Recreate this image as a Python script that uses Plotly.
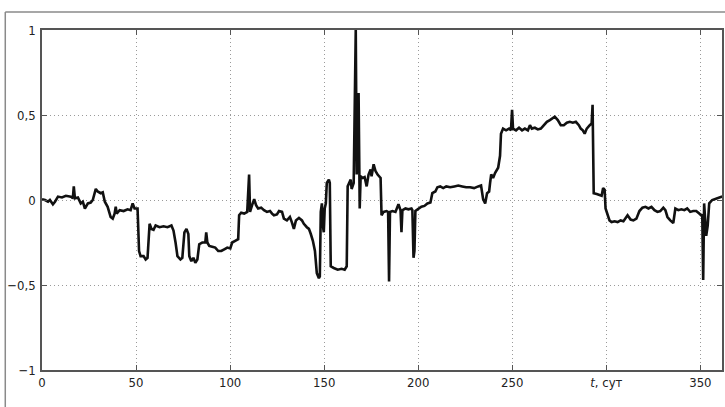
import plotly.graph_objects as go

# time, days
t_days = [0, 1.6, 3.2, 4.2, 5.8, 6.9, 8.5, 10.6, 12.7, 15.3, 16.4, 16.9, 17.5, 19.1, 20.6, 21.7, 22.8, 24.4, 25.9, 27.0,
          28.6, 29.6, 31.2, 32.3, 33.4, 34.9, 36.5, 37.6, 38.6, 39.2, 39.7, 41.3, 43.4, 45.5, 47.1, 48.2, 49.2, 50.8, 51.6, 52.4,
          54.0, 55.1, 56.1, 57.2, 58.2, 59.3, 60.4, 62.5, 64.6, 66.7, 68.8, 69.9, 71.0, 72.0, 73.6, 74.6, 75.7, 76.8, 77.8, 78.3,
          79.4, 80.5, 81.5, 82.6, 83.6, 85.2, 86.8, 87.3, 87.9, 88.9, 90.5, 92.1, 93.7, 95.3, 96.9, 98.5, 100.1, 101.1, 102.7, 104.3,
          104.8, 105.9, 107.5, 109.1, 110.1, 110.6, 111.7, 112.8, 113.8, 114.9, 116.5, 118.0, 119.6, 121.2, 122.3, 123.3, 124.9, 126.0, 127.6, 128.6,
          130.2, 131.8, 132.8, 133.9, 135.0, 136.6, 138.2, 139.2, 140.8, 141.9, 142.9, 144.0, 145.1, 146.1, 147.2, 147.7, 148.2, 148.8, 149.3, 149.8,
          150.3, 150.9, 151.4, 152.5, 153.0, 153.5, 155.1, 157.2, 159.3, 160.9, 162.0, 162.5, 164.1, 164.6, 165.7, 166.8, 167.3, 167.8, 168.3, 168.9,
          169.4, 170.5, 171.5, 172.6, 173.6, 174.7, 175.2, 176.3, 177.3, 178.4, 179.5, 180.0, 180.5, 181.6, 183.2, 184.0, 184.5, 185.0, 186.3, 187.9,
          189.5, 190.6, 191.1, 191.6, 193.2, 194.8, 196.4, 196.9, 197.5, 198.0, 198.5, 200.1, 201.7, 203.3, 204.9, 206.5, 207.5, 209.1, 210.2, 211.7,
          213.3, 214.9, 217.0, 219.2, 221.3, 223.4, 225.5, 227.6, 229.7, 231.9, 233.4, 234.5, 235.6, 236.6, 237.7, 238.2, 238.8, 239.8, 240.9, 242.5,
          243.5, 244.0, 245.1, 246.7, 248.3, 249.3, 249.9, 250.4, 252.0, 253.6, 255.2, 256.7, 258.3, 259.4, 260.4, 262.0, 263.6, 265.2, 266.8, 268.4,
          270.0, 271.6, 272.6, 274.2, 275.8, 277.4, 279.0, 280.6, 282.2, 283.8, 285.4, 286.4, 287.5, 288.5, 289.6, 291.2, 292.2, 292.7, 293.3, 294.9,
          296.5, 297.5, 298.3, 299.1, 299.6, 300.7, 301.7, 302.8, 304.4, 306.0, 307.6, 309.1, 311.3, 312.9, 314.4, 316.0, 317.6, 319.2, 320.8, 322.4,
          324.0, 325.6, 327.2, 328.7, 330.3, 331.4, 332.5, 334.0, 335.6, 336.7, 338.3, 339.9, 341.5, 343.0, 344.6, 346.2, 347.8, 349.4, 350.4, 351.0,
          351.5, 352.0, 352.6, 353.1, 353.9, 354.7, 356.3, 357.9, 359.5, 361.6]

values = [0.005, 0.0, -0.01, 0.0, -0.025, -0.01, 0.02, 0.015, 0.025, 0.02, 0.01, 0.08, 0.01, 0.015, -0.02, -0.01, -0.05, -0.02, -0.015, 0.0,
          0.065, 0.05, 0.04, 0.045, -0.01, -0.04, -0.1, -0.11, -0.08, -0.04, -0.08, -0.06, -0.065, -0.055, -0.06, -0.02, -0.05, -0.05, -0.3, -0.33,
          -0.33, -0.35, -0.34, -0.14, -0.17, -0.175, -0.15, -0.16, -0.155, -0.16, -0.15, -0.18, -0.25, -0.33, -0.35, -0.34, -0.19, -0.17, -0.2, -0.33,
          -0.36, -0.34, -0.37, -0.35, -0.26, -0.25, -0.25, -0.19, -0.25, -0.27, -0.275, -0.28, -0.3, -0.3, -0.29, -0.28, -0.285, -0.25, -0.24, -0.23,
          -0.09, -0.075, -0.08, -0.07, 0.15, -0.07, -0.03, 0.005, -0.03, -0.05, -0.045, -0.06, -0.07, -0.065, -0.08, -0.09, -0.085, -0.065, -0.07, -0.11,
          -0.12, -0.1, -0.13, -0.17, -0.12, -0.105, -0.12, -0.14, -0.16, -0.17, -0.2, -0.24, -0.3, -0.43, -0.46, -0.45, -0.07, -0.02, -0.15, -0.19,
          -0.05, -0.02, 0.1, 0.12, 0.1, -0.39, -0.4, -0.41, -0.405, -0.41, -0.39, 0.08, 0.12, 0.065, 0.1, 1.0, 0.15, 0.53, 0.63, -0.05,
          0.14, 0.13, 0.135, 0.08, 0.15, 0.18, 0.14, 0.21, 0.17, 0.15, 0.14, 0.13, -0.09, -0.07, -0.065, -0.07, -0.48, -0.07, -0.065, -0.07,
          -0.025, -0.06, -0.19, -0.06, -0.05, -0.055, -0.05, -0.06, -0.34, -0.3, -0.065, -0.05, -0.04, -0.035, -0.02, -0.015, 0.04, 0.05, 0.075, 0.08,
          0.07, 0.08, 0.075, 0.08, 0.085, 0.08, 0.075, 0.075, 0.07, 0.08, 0.085, 0.005, -0.02, 0.04, 0.05, 0.1, 0.15, 0.13, 0.16, 0.19,
          0.26, 0.39, 0.42, 0.41, 0.42, 0.41, 0.53, 0.42, 0.41, 0.425, 0.41, 0.42, 0.41, 0.44, 0.42, 0.425, 0.415, 0.42, 0.44, 0.46,
          0.47, 0.48, 0.49, 0.47, 0.44, 0.44, 0.455, 0.46, 0.455, 0.46, 0.44, 0.42, 0.41, 0.39, 0.42, 0.44, 0.45, 0.56, 0.04, 0.035,
          0.03, 0.025, 0.07, 0.06, -0.05, -0.09, -0.12, -0.13, -0.125, -0.13, -0.12, -0.125, -0.09, -0.115, -0.12, -0.11, -0.065, -0.045, -0.04, -0.05,
          -0.04, -0.06, -0.07, -0.065, -0.045, -0.06, -0.1, -0.12, -0.135, -0.05, -0.06, -0.055, -0.06, -0.05, -0.07, -0.065, -0.065, -0.08, -0.09, -0.085,
          -0.47, -0.02, -0.1, -0.21, -0.15, -0.02, 0.0, 0.005, 0.01, 0.02]

x_tickvals = [0, 50, 100, 150, 200, 250, 300, 350]
x_ticktext = ["0", "50", "100", "150", "200", "250", "<i>t</i>, сут", "350"]
y_tickvals = [-1, -0.5, 0, 0.5, 1]
y_ticktext = ["\u22121", "\u22120,5", "0", "0,5", "1"]

FONT = "DejaVu Sans Condensed, Roboto, Arial, sans-serif"

fig = go.Figure()
fig.add_trace(go.Scatter(x=t_days, y=values, mode="lines",
                         line=dict(color="#111111", width=2.6), showlegend=False))

axis_common = dict(
    showline=True, linecolor="#555555", linewidth=1.5, mirror="ticks",
    ticks="inside", ticklen=5, tickcolor="#555555", tickwidth=1,
    showgrid=True, gridcolor="#9a9a9a", griddash="1px,3px", gridwidth=1,
    zeroline=False,
    tickfont=dict(family=FONT, size=13, color="#222222"),
)

fig.update_xaxes(range=[0, 361.5], tickvals=x_tickvals, ticktext=x_ticktext, **axis_common)
fig.update_yaxes(range=[-1, 1], tickvals=y_tickvals, ticktext=y_ticktext, ticklabelstandoff=2, **axis_common)

fig.update_layout(
    width=725, height=407,
    margin=dict(l=42, r=1, t=30, b=37),
    paper_bgcolor="white", plot_bgcolor="white",
    shapes=[
        dict(type="line", xref="paper", yref="paper", x0=-0.054, x1=1.01, y0=1.053, y1=1.053,
             line=dict(color="#8a8a8a", width=1.5)),
        dict(type="line", xref="paper", yref="paper", x0=-0.054, x1=-0.054, y0=1.053, y1=-0.12,
             line=dict(color="#8a8a8a", width=1.5)),
    ],
)

fig.write_html("out.html")
